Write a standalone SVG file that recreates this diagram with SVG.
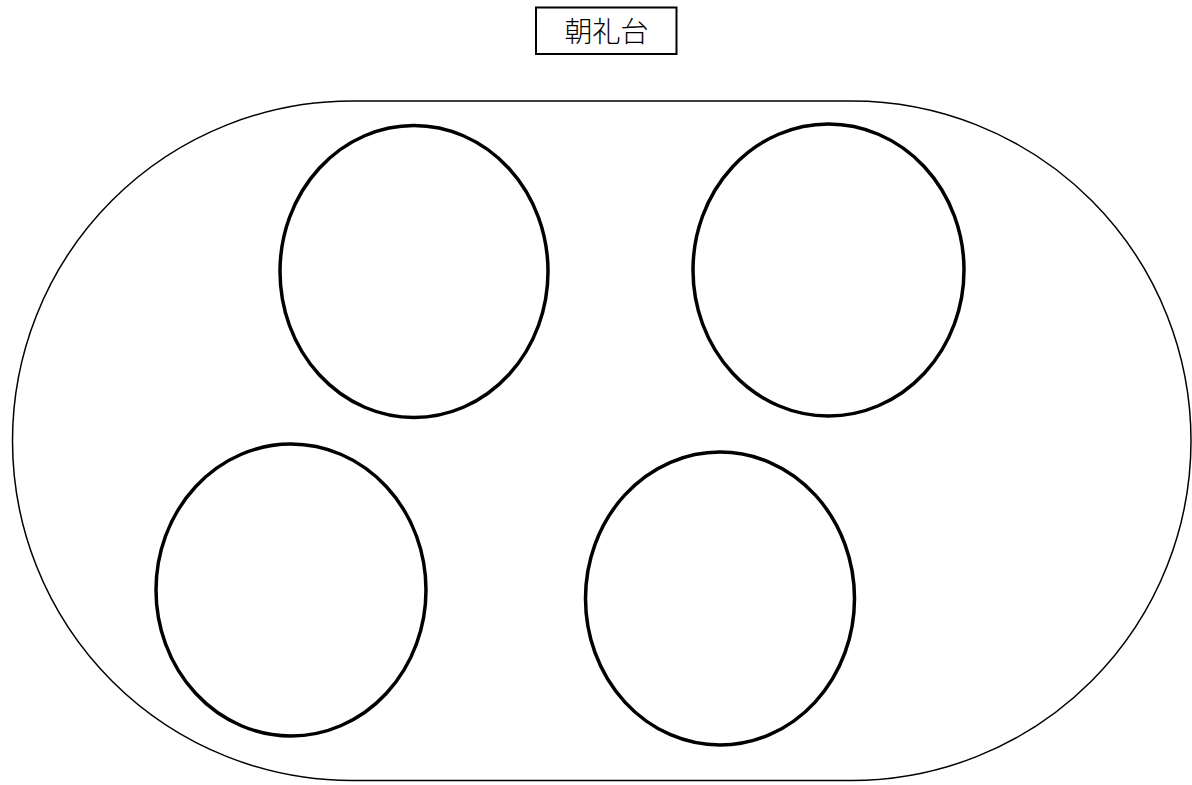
<svg xmlns="http://www.w3.org/2000/svg" width="1192" height="785" viewBox="0 0 1192 785">
<style>
.track{fill:none;stroke:#000;stroke-width:1.5}
.circ{fill:none;stroke:#000;stroke-width:3.5}
.box{fill:#fff;stroke:#000;stroke-width:2}
.lbl{font-family:"Noto Sans CJK JP","Noto Sans CJK SC",sans-serif;font-size:28px;font-weight:300;fill:#000}
</style>
<rect width="1192" height="785" fill="#fff"/>
<g id="track">
<rect class="track" x="12.5" y="101" width="1178.5" height="679.5" rx="339.5" ry="339.75"/>
</g>
<g id="stage">
<rect class="box" x="536" y="7.5" width="140.5" height="46.5"/>
<text class="lbl" x="606.5" y="42" text-anchor="middle">朝礼台</text>
</g>
<g id="circle1"><ellipse class="circ" cx="414" cy="271.5" rx="134" ry="146"/></g>
<g id="circle2"><ellipse class="circ" cx="828.5" cy="270" rx="135.5" ry="146"/></g>
<g id="circle3"><ellipse class="circ" cx="291" cy="590" rx="135" ry="146"/></g>
<g id="circle4"><ellipse class="circ" cx="720" cy="598.5" rx="134.5" ry="146.5"/></g>
<g id="connectors"/>
</svg>
